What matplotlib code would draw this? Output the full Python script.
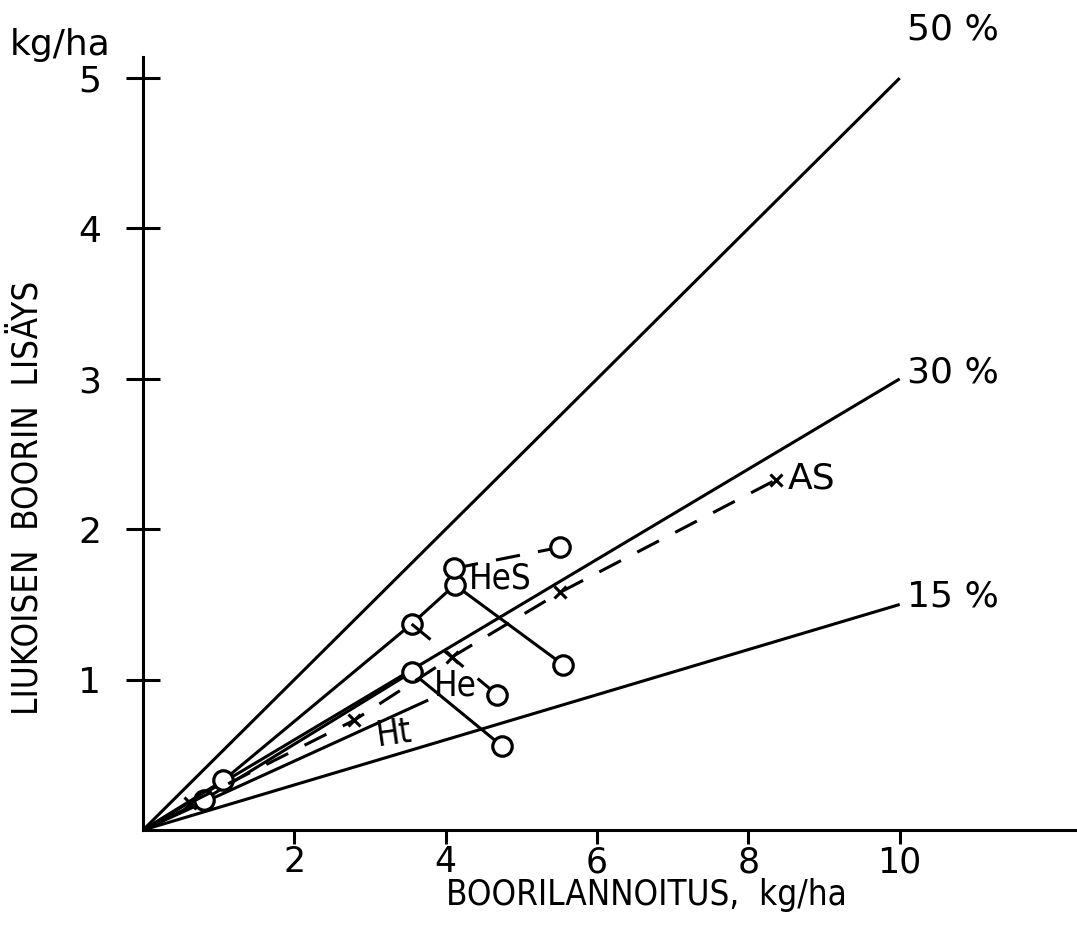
import matplotlib
matplotlib.use("Agg")
import matplotlib.pyplot as plt

# Reference lines (percent of applied boron)
ref_pcts = [50, 30, 15]
ref_x = [0, 10]

# Series (x = boron fertilisation kg/ha, y = increase in soluble boron kg/ha)
hes_solid_x = [0, 1.06, 3.55, 4.12, 5.55]
hes_solid_y = [0, 0.33, 1.37, 1.63, 1.10]
hes_dash_x = [4.11, 5.51]
hes_dash_y = [1.74, 1.88]
he_dash_x = [3.55, 4.68]
he_dash_y = [1.37, 0.90]
he_solid_x = [0, 0.80, 3.55, 4.74]
he_solid_y = [0, 0.20, 1.05, 0.56]
ht_x = [0, 3.75]
ht_y = [0, 0.86]
as_x = [0.62, 2.79, 4.08, 5.51, 8.37]
as_y = [0.18, 0.73, 1.15, 1.58, 2.33]

xticks = [2, 4, 6, 8, 10]
yticks = [1, 2, 3, 4, 5]

fs = 25
font = dict(family="DejaVu Sans", stretch="condensed")
nfont = dict(family="DejaVu Sans")
lw = 2.2

fig = plt.figure(figsize=(10.77, 9.32), dpi=100)
ax = fig.add_axes([0.1328, 0.1094, 0.867, 0.8294])
ax.set_xlim(0, 12.34)
ax.set_ylim(0, 5.14)

pct_y = {50: 5.32, 30: 3.04, 15: 1.55}
for p in ref_pcts:
    ax.plot(ref_x, [v * p / 100 for v in ref_x], color="black", lw=lw, solid_capstyle="butt")
    ax.text(10.1, pct_y[p], f"{p} %", fontsize=fs + 1,
            ha="left", va="center", clip_on=False, **nfont)

mk = dict(marker="o", markersize=14, markerfacecolor="white", markeredgecolor="black",
          markeredgewidth=2.3)

ax.plot(ht_x, ht_y, color="black", lw=lw)
ax.plot(he_solid_x, he_solid_y, color="black", lw=lw, markevery=[1, 2, 3], **mk)
ax.plot(hes_solid_x, hes_solid_y, color="black", lw=lw, markevery=[1, 2, 3, 4], **mk)
ax.plot(hes_dash_x, hes_dash_y, color="black", lw=lw, dashes=(8, 6), **mk)
ax.plot(he_dash_x, he_dash_y, color="black", lw=lw, dashes=(8, 6), markevery=[1], **mk)
ax.plot(as_x, as_y, color="black", lw=lw, dashes=(8, 6), marker="x",
        markersize=9, markeredgewidth=2.2)

ax.text(8.52, 2.34, "AS", fontsize=fs + 1, ha="left", va="center", **nfont)
ax.text(4.3, 1.67, "HeS", fontsize=fs, ha="left", va="center", **font)
ax.text(3.84, 0.96, "He", fontsize=fs, ha="left", va="center", **font)
ax.text(3.05, 0.64, "Ht", fontsize=fs, ha="left", va="center", rotation=8, **font)

ax.spines["top"].set_visible(False)
ax.spines["right"].set_visible(False)
for s in ["left", "bottom"]:
    ax.spines[s].set_linewidth(lw)

ax.set_xticks(xticks)
ax.set_yticks(yticks)
ax.set_xticklabels([str(t) for t in xticks], fontsize=fs, **nfont)
ax.set_yticklabels([str(t) for t in yticks], fontsize=fs + 1, **nfont)
ax.tick_params(axis="x", direction="out", length=10, width=lw, pad=1)
ax.tick_params(axis="y", direction="inout", length=24, width=lw, pad=18)

ax.set_xlabel("BOORILANNOITUS,  kg/ha", fontsize=fs, **font)
ax.xaxis.set_label_coords(0.539, -0.062)
ax.set_ylabel("LIUKOISEN  BOORIN  LISÄYS", fontsize=fs, **font)
ax.yaxis.set_label_coords(-0.105, 0.43)
fig.text(0.009, 0.952, "kg/ha", fontsize=fs + 1, ha="left", va="center", **nfont)

fig.savefig("out.png", dpi=100)
